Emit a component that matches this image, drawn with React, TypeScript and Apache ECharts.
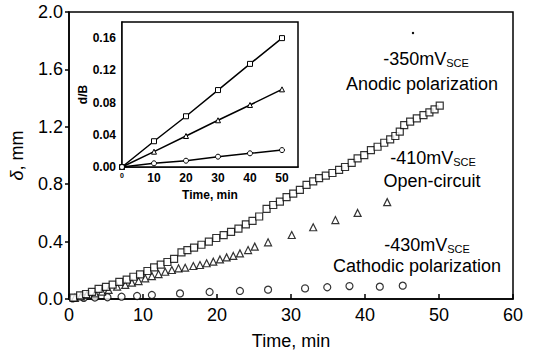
import React, { useEffect, useRef } from "react";
import * as echarts from "echarts";

// Main chart data: [time (min), delta (mm)]
const anodicSquares: [number, number][] = [
  [0.6, 0.01], [1.5, 0.025], [2.3, 0.035], [3.1, 0.05], [4.0, 0.07], [5.0, 0.085],
  [5.9, 0.1], [6.8, 0.12], [7.8, 0.135], [8.7, 0.155], [9.6, 0.172], [10.6, 0.195],
  [11.5, 0.22], [12.4, 0.24], [13.3, 0.258], [14.2, 0.28], [15.2, 0.325], [16.0, 0.34],
  [16.9, 0.358], [17.9, 0.378], [18.9, 0.4], [19.9, 0.425], [20.9, 0.445], [21.9, 0.468],
  [22.9, 0.49], [23.9, 0.52], [24.8, 0.545], [25.7, 0.575], [26.7, 0.628], [27.6, 0.655],
  [28.5, 0.678], [29.4, 0.71], [30.3, 0.735], [31.2, 0.76], [32.1, 0.795], [33.0, 0.82],
  [33.8, 0.842], [34.7, 0.86], [35.6, 0.878], [36.5, 0.9], [37.3, 0.92], [38.2, 0.948],
  [39.0, 0.98], [39.9, 1.003], [40.8, 1.038], [41.7, 1.061], [42.6, 1.089], [43.4, 1.113],
  [44.1, 1.136], [44.7, 1.166], [45.3, 1.212], [46.1, 1.236], [47.0, 1.259], [47.9, 1.282],
  [48.7, 1.3], [49.4, 1.321], [50.1, 1.347],
];
const openCircuitTriangles: [number, number][] = [
  [0.8, 0.008], [1.6, 0.018], [2.4, 0.028], [3.55, 0.039], [4.45, 0.051], [5.35, 0.063],
  [6.5, 0.086], [7.6, 0.098], [8.5, 0.114], [9.4, 0.125], [10.3, 0.144], [11.2, 0.16],
  [12.1, 0.174], [13.0, 0.19], [13.9, 0.202], [14.8, 0.214], [15.7, 0.218], [16.8, 0.23],
  [17.7, 0.237], [18.6, 0.249], [19.5, 0.26], [20.4, 0.276], [21.3, 0.29], [22.2, 0.3],
  [23.1, 0.318], [24.2, 0.341], [25.1, 0.365], [26.9, 0.395], [30.1, 0.446], [33.0, 0.5],
  [36.0, 0.55], [39.0, 0.6], [43.0, 0.675],
];
const cathodicCircles: [number, number][] = [
  [0.5, 0.004], [2.0, 0.008], [3.5, 0.01], [5.2, 0.012], [7.1, 0.016], [9.2, 0.021],
  [11.2, 0.028], [15.0, 0.039], [19.0, 0.049], [23.1, 0.056], [26.9, 0.065], [31.9, 0.074],
  [34.9, 0.082], [37.9, 0.09], [42.0, 0.086], [45.1, 0.093],
];

// Inset data: d/B vs time
const insetTime = [0, 10, 20, 30, 40, 50];
const insetAnodic = [0, 0.032, 0.063, 0.0955, 0.128, 0.16];
const insetOpen = [0, 0.019, 0.0385, 0.058, 0.077, 0.0964];
const insetCathodic = [0, 0.0046, 0.0078, 0.0128, 0.017, 0.021];

const FONT = "Liberation Sans";

export default function App() {
  const ref = useRef<HTMLDivElement>(null);
  useEffect(() => {
    if (!ref.current) return;
    const chart = echarts.init(ref.current, null, { renderer: "svg" });
    const black = "#000";
    const markerStyle = { color: "#fff", borderColor: black, borderWidth: 1.2 };
    const insetLine = (data: number[], symbol: string) => ({
      type: "line",
      xAxisIndex: 1,
      yAxisIndex: 1,
      data: insetTime.map((t, i) => [t, data[i]]),
      symbol,
      symbolSize: 5,
      showAllSymbol: true,
      lineStyle: { color: black, width: 1.5 },
      itemStyle: { color: "#fff", borderColor: black, borderWidth: 1 },
      z: 5,
    });
    const subText = (main: string, x: number, y: number) => ({
      type: "text",
      x,
      y,
      style: {
        text: `{a|${main}}{b|SCE}`,
        align: "center",
        verticalAlign: "middle",
        rich: {
          a: { fontSize: 18, lineHeight: 19, fontFamily: FONT, fill: black },
          b: { fontSize: 11, lineHeight: 12, verticalAlign: "bottom", fontFamily: FONT, fill: black },
        },
      },
    });
    const plainText = (t: string, x: number, y: number) => ({
      type: "text",
      x,
      y,
      style: { text: t, align: "center", verticalAlign: "middle", fontSize: 18, fontFamily: FONT, fill: black },
    });
    chart.setOption({
      animation: false,
      backgroundColor: "#fff",
      textStyle: { fontFamily: FONT, color: black },
      grid: [
        { left: 68, right: 22, top: 12, bottom: 59, show: true, borderColor: black, borderWidth: 1.5, backgroundColor: "#fff" },
        { left: 122, top: 22, width: 176, height: 145, show: true, borderColor: black, borderWidth: 1.5, backgroundColor: "#fff", z: 3 },
      ],
      xAxis: [
        {
          type: "value", gridIndex: 0, min: 0, max: 60, interval: 10,
          axisLine: { lineStyle: { color: black, width: 1.5 } },
          axisTick: { inside: true, length: 5, lineStyle: { color: black, width: 1.5 } },
          splitLine: { show: false },
          axisLabel: { fontSize: 18, color: black, margin: 7, fontFamily: FONT },
          name: "Time, min", nameLocation: "middle", nameGap: 33,
          nameTextStyle: { fontSize: 18, color: black, fontFamily: FONT },
        },
        {
          type: "value", gridIndex: 1, min: 0, max: 55, interval: 10,
          axisLine: { lineStyle: { color: black, width: 1.5 } },
          axisTick: { inside: true, length: 3, lineStyle: { color: black, width: 1 } },
          splitLine: { show: false },
          axisLabel: {
            fontSize: 12, fontWeight: "bold", color: black, margin: 5, fontFamily: FONT, showMaxLabel: false,
            formatter: (v: number) => (v === 0 ? "{s|0}" : String(v)),
            rich: { s: { fontSize: 7, fontWeight: "bold", fontFamily: FONT, color: black } },
          },
          name: "Time, min", nameLocation: "middle", nameGap: 22,
          nameTextStyle: { fontSize: 12, fontWeight: "bold", color: black, fontFamily: FONT },
        },
      ],
      yAxis: [
        {
          type: "value", gridIndex: 0, min: 0, max: 2, interval: 0.4,
          axisLine: { lineStyle: { color: black, width: 1.5 } },
          axisTick: { inside: false, length: 4, lineStyle: { color: black, width: 1.5 } },
          splitLine: { show: false },
          axisLabel: { fontSize: 18, color: black, margin: 6, fontFamily: FONT, formatter: (v: number) => v.toFixed(1) },
          name: "{i|δ}, mm", nameLocation: "middle", nameGap: 43,
          nameTextStyle: {
            fontSize: 18, color: black, fontFamily: FONT,
            rich: { i: { fontStyle: "italic", fontSize: 18, fontFamily: FONT, color: black } },
          },
        },
        {
          type: "value", gridIndex: 1, min: 0, max: 0.18, interval: 0.04,
          axisLine: { lineStyle: { color: black, width: 1.5 } },
          axisTick: { inside: true, length: 3, lineStyle: { color: black, width: 1 } },
          splitLine: { show: false },
          axisLabel: { fontSize: 12, fontWeight: "bold", color: black, margin: 6, fontFamily: FONT, showMaxLabel: false, formatter: (v: number) => v.toFixed(2) },
          name: "d/B", nameLocation: "middle", nameGap: 33,
          nameTextStyle: { fontSize: 12, fontWeight: "bold", color: black, fontFamily: FONT },
        },
      ],
      series: [
        { type: "scatter", xAxisIndex: 0, yAxisIndex: 0, data: cathodicCircles, symbol: "circle", symbolSize: 7, itemStyle: markerStyle },
        { type: "scatter", xAxisIndex: 0, yAxisIndex: 0, data: openCircuitTriangles, symbol: "triangle", symbolSize: 7, itemStyle: markerStyle },
        { type: "scatter", xAxisIndex: 0, yAxisIndex: 0, data: anodicSquares, symbol: "rect", symbolSize: 7, itemStyle: markerStyle },
        insetLine(insetAnodic, "rect"),
        insetLine(insetOpen, "triangle"),
        insetLine(insetCathodic, "circle"),
      ],
      graphic: [
        subText("-350mV", 426, 59),
        plainText("Anodic polarization", 422, 84),
        subText("-410mV", 433, 158),
        plainText("Open-circuit", 432, 181),
        subText("-430mV", 427, 245),
        plainText("Cathodic polarization", 417, 266),
        { type: "circle", shape: { cx: 413, cy: 33, r: 1.2 }, style: { fill: black } },
      ],
    });
    return () => chart.dispose();
  }, []);
  return <div ref={ref} style={{ position: "fixed", left: 0, top: 0, width: 535, height: 358 }} />;
}
